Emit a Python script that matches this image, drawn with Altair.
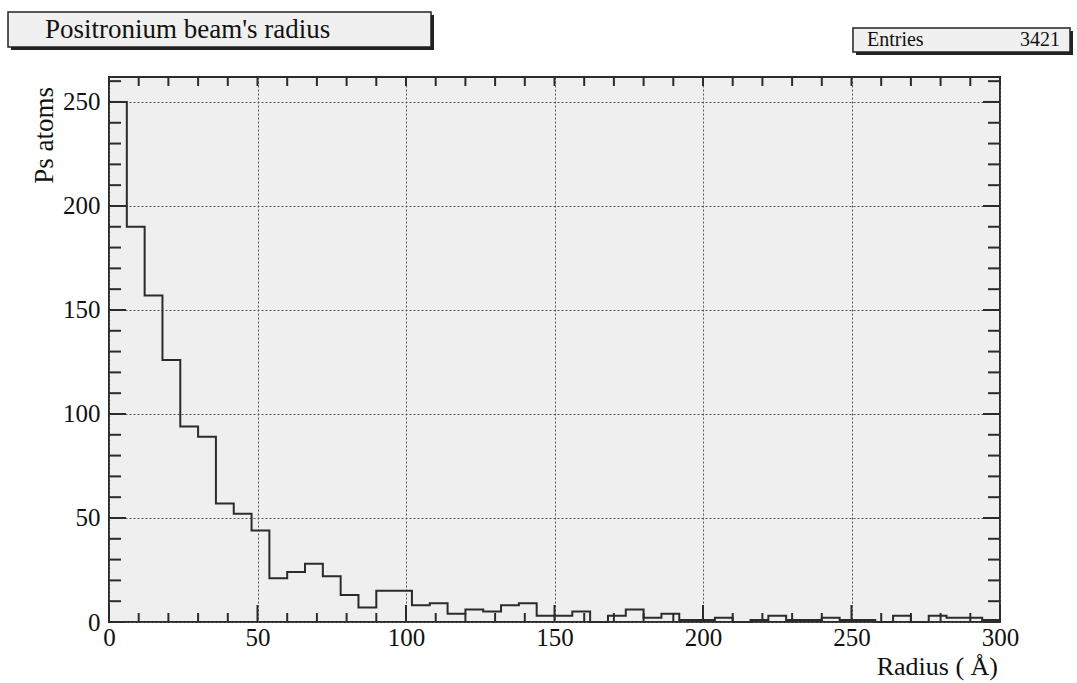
import altair as alt
import pandas as pd

# ---- data ----
BIN_WIDTH = 6
counts = [250, 190, 157, 126, 94, 89, 57, 52, 44, 21,
          24, 28, 22, 13, 7, 15, 15, 8, 9, 4,
          6, 5, 8, 9, 3, 3, 5, 0, 3, 6,
          2, 4, 1, 1, 2, 0, 1, 3, 1, 1,
          2, 1, 1, 0, 3, 0, 3, 2, 2, 1]
x_major = [0, 50, 100, 150, 200, 250, 300]
y_major = [0, 50, 100, 150, 200, 250]
x_minor = [v for v in range(0, 301, 10) if v % 50 != 0]
y_minor = [v for v in range(0, 261, 10) if v % 50 != 0]
title_text = "Positronium beam's radius"
entries_label = "Entries"
entries_value = "3421"
x_title = "Radius (  Å)"
y_title = "Ps atoms"

X_DOM = [0, 300]
Y_DOM = [0, 262]
W, H = 891, 545
FONT = "Liberation Serif"
INK = "#2b2b2b"

edges = [i * BIN_WIDTH for i in range(len(counts) + 1)]
hist = pd.DataFrame({"x": edges, "y": counts + [counts[-1]]})

xs = alt.Scale(domain=X_DOM, nice=False, zero=False)
ys = alt.Scale(domain=Y_DOM, nice=False, zero=False)

x_axis = alt.Axis(
    values=x_major, ticks=False, domain=False, title=None, labelFlush=False,
    labelFont=FONT, labelFontSize=25, labelColor="#111", labelPadding=3,
    grid=True, gridDash=[2, 2], gridColor="#555", gridWidth=1)
y_axis = alt.Axis(
    values=y_major, ticks=False, domain=False, title=None,
    labelFont=FONT, labelFontSize=25, labelColor="#111", labelPadding=9,
    grid=True, gridDash=[2, 2], gridColor="#555", gridWidth=1)

hist_layer = alt.Chart(hist).mark_line(
    interpolate="step-after", color=INK, strokeWidth=2
).encode(
    x=alt.X("x:Q", scale=xs, axis=x_axis),
    y=alt.Y("y:Q", scale=ys, axis=y_axis),
)

def xticks(vals, length_bottom, length_top):
    d = pd.DataFrame({"x": vals})
    b = alt.Chart(d).mark_rule(color=INK, strokeWidth=2).encode(
        x=alt.X("x:Q", scale=xs, axis=x_axis),
        y=alt.value(H), y2=alt.value(H - length_bottom))
    t = alt.Chart(d).mark_rule(color=INK, strokeWidth=2).encode(
        x=alt.X("x:Q", scale=xs, axis=x_axis),
        y=alt.value(0), y2=alt.value(length_top))
    return [b, t]

def yticks(vals, length):
    d = pd.DataFrame({"y": vals})
    l = alt.Chart(d).mark_rule(color=INK, strokeWidth=2).encode(
        y=alt.Y("y:Q", scale=ys, axis=y_axis),
        x=alt.value(0), x2=alt.value(length))
    r = alt.Chart(d).mark_rule(color=INK, strokeWidth=2).encode(
        y=alt.Y("y:Q", scale=ys, axis=y_axis),
        x=alt.value(W), x2=alt.value(W - length))
    return [l, r]

one = pd.DataFrame({"a": [0]})

def box(x0, x1, y0, y1, fill):
    shadow = alt.Chart(one).mark_rect(color="#222").encode(
        x=alt.value(x0 + 3), x2=alt.value(x1 + 3),
        y=alt.value(y0 + 3), y2=alt.value(y1 + 3))
    face = alt.Chart(one).mark_rect(fill=fill, stroke="#222", strokeWidth=1.5).encode(
        x=alt.value(x0), x2=alt.value(x1), y=alt.value(y0), y2=alt.value(y1))
    return [shadow, face]

title_layers = box(-101, 322, -65, -30, "#f0f0f0") + [
    alt.Chart(one).mark_text(text=title_text, font=FONT, fontSize=27,
                             align="left", baseline="middle", color="#111").encode(
        x=alt.value(-64), y=alt.value(-47))
]
entries_layers = box(744, 961, -49, -25, "#f0f0f0") + [
    alt.Chart(one).mark_text(text=entries_label, font=FONT, fontSize=20,
                             align="left", baseline="middle", color="#111").encode(
        x=alt.value(758), y=alt.value(-37)),
    alt.Chart(one).mark_text(text=entries_value, font=FONT, fontSize=20,
                             align="right", baseline="middle", color="#111").encode(
        x=alt.value(951), y=alt.value(-37)),
]
axis_titles = [
    alt.Chart(one).mark_text(text=x_title, font=FONT, fontSize=26,
                             align="right", baseline="alphabetic", color="#111").encode(
        x=alt.value(889), y=alt.value(598)),
    alt.Chart(one).mark_text(text=y_title, font=FONT, fontSize=27, angle=270,
                             align="right", baseline="middle", color="#111").encode(
        x=alt.value(-64), y=alt.value(10)),
]

layers = ([hist_layer]
          + xticks(x_major, 17, 9) + xticks(x_minor, 9, 9)
          + yticks(y_major, 17) + yticks(y_minor, 12)
          + title_layers + entries_layers + axis_titles)

chart = alt.layer(*layers).properties(
    width=W, height=H,
    autosize=alt.AutoSizeParams(type="none"),
    padding={"left": 109, "top": 77, "right": 77, "bottom": 61},
    background="white",
).configure_view(fill="#eeefee", stroke=INK, strokeWidth=2)

chart.save("out.html", embed_options={"renderer": "svg", "actions": False})
